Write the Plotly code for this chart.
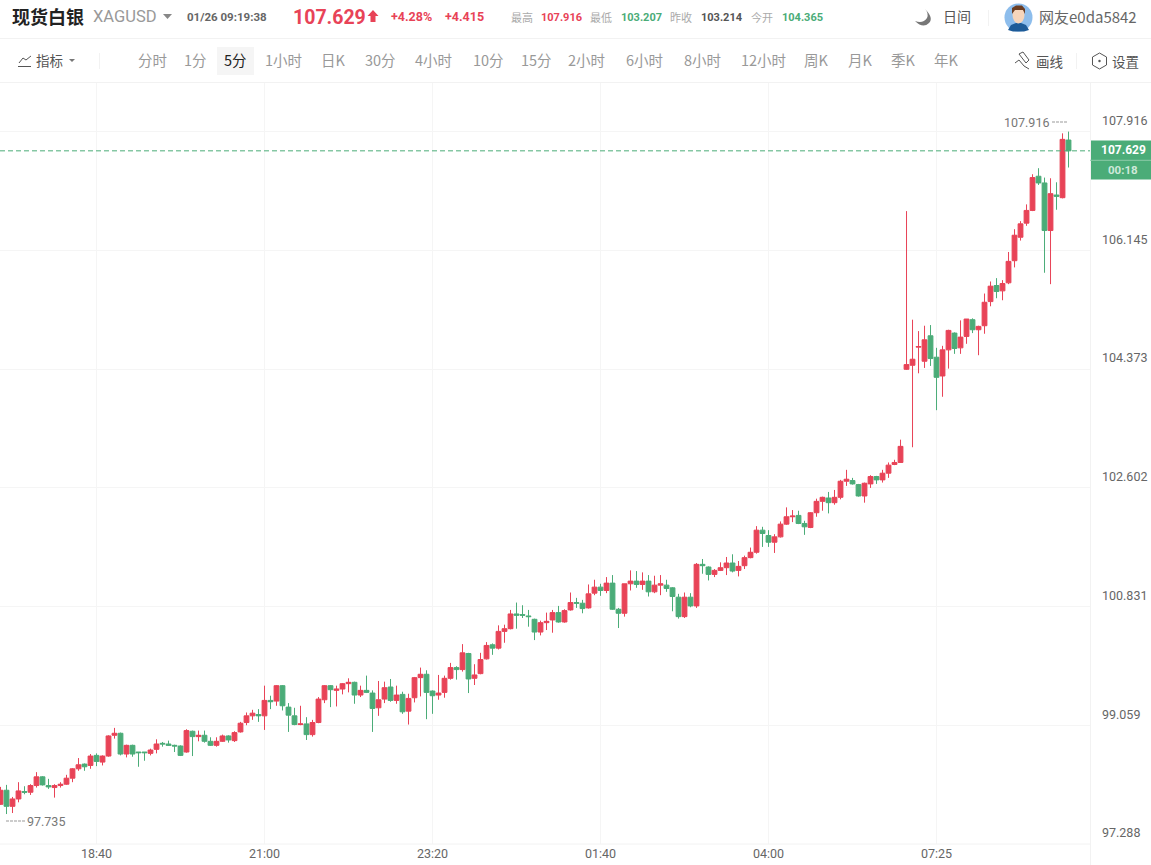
import plotly.graph_objects as go

# 5 minute candles (red = up, green = down)
opens = [97.88,98.09,97.85,97.96,98.07,98.06,98.16,98.29,98.16,98.13,
         98.16,98.18,98.27,98.41,98.48,98.46,98.61,98.51,98.60,98.91,
         98.94,98.63,98.76,98.66,98.66,98.64,98.70,98.79,98.78,98.76,
         98.75,98.66,98.97,98.89,98.91,98.82,98.76,98.82,98.90,98.83,
         98.96,99.10,99.20,99.22,99.20,99.43,99.42,99.65,99.33,99.20,
         99.07,99.08,98.92,99.10,99.44,99.65,99.58,99.60,99.68,99.70,
         99.51,99.58,99.54,99.32,99.45,99.63,99.43,99.52,99.27,99.47,
         99.77,99.82,99.57,99.51,99.55,99.76,99.92,99.89,100.13,99.76,
         99.83,100.05,100.26,100.21,100.46,100.50,100.72,100.71,100.69,100.64,
         100.45,100.59,100.63,100.74,100.60,100.78,100.89,100.88,100.81,101.03,
         101.12,101.07,101.18,100.79,100.73,101.17,101.21,101.16,101.21,101.05,
         101.15,101.15,101.11,100.97,100.68,100.97,100.84,101.46,101.42,101.31,
         101.37,101.41,101.48,101.37,101.44,101.56,101.64,101.97,101.89,101.79,
         101.87,102.06,102.17,102.19,102.07,102.01,102.23,102.40,102.45,102.38,
         102.46,102.70,102.71,102.65,102.48,102.66,102.77,102.72,102.82,102.95,
         102.98,104.37,104.43,104.70,104.49,104.87,104.55,104.27,104.66,104.91,
         104.69,104.86,105.11,104.96,105.02,105.38,105.62,105.54,105.66,105.99,
         106.34,106.55,106.74,107.25,107.15,106.44,106.97,106.93,107.79]
highs = [98.14,98.17,97.99,98.21,98.15,98.18,98.36,98.30,98.26,98.18,
         98.21,98.32,98.42,98.57,98.49,98.63,98.64,98.61,98.91,99.02,
         98.95,98.77,98.77,98.66,98.66,98.71,98.85,98.81,98.83,98.77,
         98.76,99.00,98.98,98.98,98.98,98.88,98.88,98.92,98.91,98.97,
         99.11,99.25,99.29,99.30,99.65,99.50,99.66,99.66,99.39,99.32,
         99.35,99.18,99.14,99.48,99.66,99.66,99.65,99.69,99.76,99.71,
         99.65,99.80,99.58,99.72,99.71,99.75,99.65,99.56,99.53,99.78,
         99.92,99.88,99.58,99.81,99.80,99.99,99.94,100.27,100.14,99.97,
         100.14,100.30,100.28,100.55,100.56,100.78,100.89,100.85,100.78,100.65,
         100.62,100.74,100.78,100.84,100.79,101.04,100.96,100.93,101.16,101.23,
         101.17,101.27,101.30,100.81,101.17,101.37,101.36,101.34,101.30,101.29,
         101.30,101.23,101.12,101.02,101.04,101.03,101.48,101.54,101.43,101.39,
         101.49,101.57,101.61,101.51,101.59,101.71,102.03,102.02,101.97,101.91,
         102.10,102.31,102.27,102.26,102.11,102.24,102.44,102.47,102.54,102.57,
         102.72,102.87,102.75,102.66,102.68,102.79,102.78,102.87,102.98,103.02,
         103.32,106.73,105.11,104.94,105.02,105.03,104.69,104.72,104.96,104.92,
         105.10,105.12,105.13,105.02,105.50,105.68,105.73,105.70,106.12,106.46,
         106.58,106.83,107.28,107.37,107.23,107.22,107.16,107.89,107.916]
lows = [97.87,97.735,97.75,97.91,98.03,98.02,98.13,98.16,98.11,97.98,
        98.13,98.17,98.21,98.38,98.38,98.41,98.45,98.46,98.59,98.86,
        98.61,98.58,98.59,98.44,98.53,98.61,98.64,98.74,98.75,98.66,
        98.60,98.65,98.60,98.82,98.80,98.75,98.74,98.81,98.80,98.81,
        98.95,99.06,99.14,99.11,98.99,99.30,99.35,99.28,98.96,99.06,
        99.06,98.84,98.89,99.09,99.39,99.33,99.34,99.52,99.55,99.38,
        99.48,99.54,98.96,99.20,99.39,99.41,99.38,99.23,99.07,99.40,
        99.49,99.15,99.23,99.44,99.47,99.74,99.74,99.86,99.54,99.66,
        99.82,100.04,100.11,100.19,100.29,100.49,100.50,100.66,100.53,100.33,
        100.40,100.48,100.44,100.59,100.59,100.77,100.81,100.73,100.80,101.00,
        100.99,101.03,100.78,100.51,100.68,101.07,101.11,101.08,100.98,101.03,
        101.00,101.05,100.76,100.65,100.66,100.82,100.81,101.32,101.22,101.27,
        101.36,101.30,101.34,101.28,101.39,101.55,101.62,101.72,101.72,101.63,
        101.86,102.05,102.09,102.06,101.90,102.00,102.17,102.26,102.22,102.35,
        102.43,102.63,102.65,102.47,102.38,102.60,102.66,102.68,102.75,102.94,
        102.98,104.36,103.207,104.31,104.39,104.42,103.76,103.96,104.38,104.60,
        104.60,104.75,104.91,104.58,104.90,105.31,105.43,105.40,105.64,105.89,
        106.29,106.51,106.73,107.12,105.81,105.64,106.75,106.92,107.38]
closes = [98.09,97.85,97.96,98.08,98.06,98.16,98.29,98.17,98.14,98.16,
          98.18,98.27,98.41,98.47,98.44,98.60,98.52,98.60,98.90,98.94,
          98.63,98.76,98.63,98.65,98.65,98.69,98.78,98.78,98.76,98.75,
          98.61,98.98,98.89,98.91,98.82,98.76,98.82,98.90,98.84,98.95,
          99.09,99.20,99.24,99.20,99.43,99.41,99.65,99.35,99.21,99.07,
          99.08,98.92,99.10,99.45,99.65,99.59,99.60,99.68,99.70,99.51,
          99.58,99.55,99.31,99.44,99.62,99.43,99.51,99.26,99.46,99.77,
          99.82,99.55,99.50,99.54,99.76,99.92,99.89,100.14,99.75,99.81,
          100.04,100.25,100.21,100.46,100.50,100.72,100.70,100.70,100.68,100.45,
          100.59,100.61,100.74,100.60,100.77,100.89,100.88,100.80,101.02,101.12,
          101.07,101.18,100.79,100.73,101.17,101.21,101.16,101.21,101.05,101.15,
          101.17,101.10,100.98,100.68,100.97,100.84,101.46,101.44,101.31,101.37,
          101.41,101.48,101.36,101.43,101.56,101.64,101.97,101.92,101.79,101.87,
          102.06,102.17,102.18,102.07,102.02,102.23,102.40,102.46,102.38,102.46,
          102.70,102.73,102.66,102.48,102.67,102.77,102.72,102.82,102.94,102.98,
          103.22,104.44,104.52,104.71,104.81,104.53,104.25,104.66,104.95,104.68,
          104.85,105.12,104.96,105.01,105.37,105.61,105.53,105.65,105.98,106.37,
          106.54,106.74,107.23,107.15,106.44,106.99,106.95,107.80,107.629]
candle_index = list(range(len(opens)))

# axes
time_ticks = [16, 44, 72, 100, 128, 156]
time_labels = ['18:40', '21:00', '23:20', '01:40', '04:00', '07:25']
price_ticks = [97.288, 99.059, 100.831, 102.602, 104.373, 106.145, 107.916]
price_labels = ['97.288', '99.059', '100.831', '102.602', '104.373', '106.145', '107.916']

# toolbar and header texts
periods = ['分时', '1分', '5分', '1小时', '日K', '30分', '4小时', '10分', '15分', '2小时',
           '6小时', '8小时', '12小时', '周K', '月K', '季K', '年K']
period_centres = [152, 195, 235, 283, 333, 380, 433, 488, 536, 587, 644, 702, 763, 816, 860, 903, 946]

RED = '#e84357'
GREEN = '#4bac78'
LINE = '#f2f2f2'
CJK = 'Noto Sans CJK SC'
NUM = 'Roboto'

# page size helpers: the plot area runs from x 0-1090 and y 83-844
PLOT_W = 1090
PLOT_H = 761


def px(x):
    return x / PLOT_W


def py(y):
    return (844 - y) / PLOT_H


def label(x, y, text, size=12, color='#666', font=NUM, anchor='center'):
    return dict(xref='paper', yref='paper', x=px(x), y=py(y), text=text, showarrow=False,
                xanchor=anchor, yanchor='middle', align='center',
                font=dict(family=font, size=size, color=color))


def path(points, close=True, **kw):
    d = ' '.join(('M' if i == 0 else 'L') + f'{px(a):.5f},{py(b):.5f}' for i, (a, b) in enumerate(points))
    return dict(type='path', xref='paper', yref='paper', path=d + (' Z' if close else ''), **kw)


def box(x0, y0, x1, y1, color):
    return dict(type='rect', xref='paper', yref='paper', x0=px(x0), x1=px(x1), y0=py(y0), y1=py(y1),
                fillcolor=color, line=dict(width=0), layer='below')


def rule(x0, y0, x1, y1, color=LINE, dash='solid'):
    return dict(type='line', xref='paper', yref='paper', x0=px(x0), x1=px(x1), y0=py(y0), y1=py(y1),
                line=dict(color=color, width=1, dash=dash))


def disc(cx, cy, rx, ry, color):
    return dict(type='circle', xref='paper', yref='paper', x0=px(cx - rx), x1=px(cx + rx),
                y0=py(cy + ry), y1=py(cy - ry), fillcolor=color, line=dict(width=0))


trace = go.Candlestick(x=candle_index, open=opens, high=highs, low=lows, close=closes,
                       increasing=dict(line=dict(color=RED, width=1), fillcolor=RED),
                       decreasing=dict(line=dict(color=GREEN, width=1), fillcolor=GREEN),
                       showlegend=False)

annotations = [
    label(47.5, 15.5, '<b>现货白银</b>', 18, '#222', CJK),
    label(125, 16, 'XAGUSD', 16.5, '#999'),
    label(226.5, 17, '<b>01/26 09:19:38</b>', 11.5, '#666'),
    label(329, 17, '<b>107.629</b>', 19.5, RED),
    label(411.5, 16, '<b>+4.28%</b>', 12.5, RED),
    label(464.5, 16, '<b>+4.415</b>', 12.5, RED),
    label(521.5, 17, '最高', 11, '#aaa', CJK),
    label(561, 17, '<b>107.916</b>', 11, RED),
    label(601, 17, '最低', 11, '#aaa', CJK),
    label(641.5, 17, '<b>103.207</b>', 11, GREEN),
    label(681, 17, '昨收', 11, '#aaa', CJK),
    label(722, 17, '<b>103.214</b>', 11, '#555'),
    label(761.5, 17, '今开', 11, '#aaa', CJK),
    label(802, 17, '<b>104.365</b>', 11, GREEN),
    label(957, 16.5, '日间', 14, '#555', CJK),
    label(1088, 16.5, '网友e0da5842', 15, '#666', CJK),
    label(49.5, 60, '指标', 13.5, '#555', CJK),
    label(1049, 60.5, '画线', 13.5, '#555', CJK),
    label(1126, 60.5, '设置', 13.5, '#555', CJK),
    # high / low markers
    label(1026.5, 122, '107.916', 12.5, '#777'),
    label(46, 821, '97.735', 12.5, '#777'),
    # last price tag
    label(1123.5, 149.5, '<b>107.629</b>', 12, '#fff'),
    label(1123, 170, '<b>00:18</b>', 11.5, '#cfe9da'),
]
for name, centre in zip(periods, period_centres):
    annotations.append(label(centre, 60, name, 14.5, '#222' if name == '5分' else '#999', CJK))

shapes = [
    # header separators and selected period
    rule(0, 38.5, 1151, 38.5),
    rule(0, 82.5, 1151, 82.5),
    rule(99.5, 53, 99.5, 69),
    rule(988.5, 10, 988.5, 26),
    rule(1076.5, 53, 1076.5, 69),
    box(217, 47, 254, 75, '#f5f5f5'),
    # right and bottom edge of the plot
    rule(1090.5, 83, 1090.5, 865),
    rule(0, 844, 1090, 844),
    # dashes beside the high and low labels
    rule(1052, 122, 1067, 122, '#999', '3px,1px'),
    rule(6, 821, 25, 821, '#999', '3px,1px'),
    # dropdown carets
    path([(163, 14), (172, 14), (167.5, 19)], fillcolor='#888', line=dict(width=0)),
    path([(69, 59), (75, 59), (72, 62)], fillcolor='#777', line=dict(width=0)),
    # arrow next to the price
    path([(373, 10), (378.5, 16), (375.5, 16), (375.5, 22), (370.5, 22), (370.5, 16), (367.5, 16)],
         fillcolor=RED, line=dict(width=0)),
    # indicator icon
    path([(19, 63), (23, 58), (26, 60), (31, 56)], close=False, line=dict(color='#555', width=1)),
    rule(18, 66.5, 31, 66.5, '#555'),
    # moon
    dict(type='path', xref='paper', yref='paper', fillcolor='#777', line=dict(width=0),
         path=(f'M{px(925)},{py(9)} Q{px(934)},{py(18)} {px(929)},{py(23)} '
               f'Q{px(923)},{py(29)} {px(915)},{py(21)} '
               f'Q{px(923)},{py(24)} {px(927)},{py(18)} Q{px(929)},{py(13)} {px(925)},{py(9)} Z')),
    # pencil icon
    path([(1019, 54), (1023, 52), (1029, 60), (1026, 63), (1019, 54)], close=False, line=dict(color='#555', width=1)),
    path([(1015, 63), (1019, 60), (1024, 66), (1029, 69)], close=False, line=dict(color='#555', width=1)),
    # settings hexagon
    path([(1099.5, 53), (1106.5, 57), (1106.5, 65), (1099.5, 69), (1092.5, 65), (1092.5, 57)],
         line=dict(color='#555', width=1)),
    disc(1099.5, 61, 1.2, 1.2, '#555'),
    # avatar
    disc(1018.5, 17.5, 14, 14, '#8dbdec'),
    path([(1008, 30), (1011, 25), (1016, 23), (1021, 23), (1026, 25), (1029, 30), (1024, 31.5), (1013, 31.5)],
         fillcolor='#1d5b98', line=dict(width=0)),
    disc(1018.5, 15, 6, 8.5, '#f6d5bb'),
    path([(1012, 14), (1012, 8), (1016, 5.5), (1022, 5.5), (1025, 9), (1025, 14), (1023, 10), (1015, 10)],
         fillcolor='#6b3d22', line=dict(width=0)),
    # last price tag and line
    box(1090, 140.5, 1151, 179.5, GREEN),
    rule(1090, 160.3, 1151, 160.3, '#8ccba8'),
    dict(type='line', xref='paper', yref='y', x0=0, x1=1, y0=closes[-1], y1=closes[-1],
         line=dict(color=GREEN, width=1, dash='5px,3px')),
]

layout = go.Layout(
    width=1151, height=865, autosize=False,
    margin=dict(l=0, r=61, t=83, b=21, pad=0),
    paper_bgcolor='white', plot_bgcolor='white',
    boxgap=0.2, boxgroupgap=0,
    font=dict(family=NUM, size=12, color='#666'),
    xaxis=dict(range=[-0.083, 181.58], rangeslider=dict(visible=False),
               tickmode='array', tickvals=time_ticks, ticktext=time_labels,
               showgrid=True, gridcolor='#f5f5f5', gridwidth=1, zeroline=False, showline=False,
               ticks='', tickfont=dict(family=NUM, size=12.5, color='#666')),
    yaxis=dict(range=[97.288, 108.641], side='right',
               tickmode='array', tickvals=price_ticks, ticktext=price_labels,
               showgrid=True, gridcolor='#f5f5f5', gridwidth=1, zeroline=False, showline=False,
               ticks='', ticklabelstandoff=11, ticklabelshift=-11,
               tickfont=dict(family=NUM, size=12.5, color='#666')),
    annotations=annotations, shapes=shapes,
)

fig = go.Figure(data=[trace], layout=layout)

fig.write_html("out.html", config=dict(displayModeBar=False),
               post_script="document.body.style.margin='0';")
